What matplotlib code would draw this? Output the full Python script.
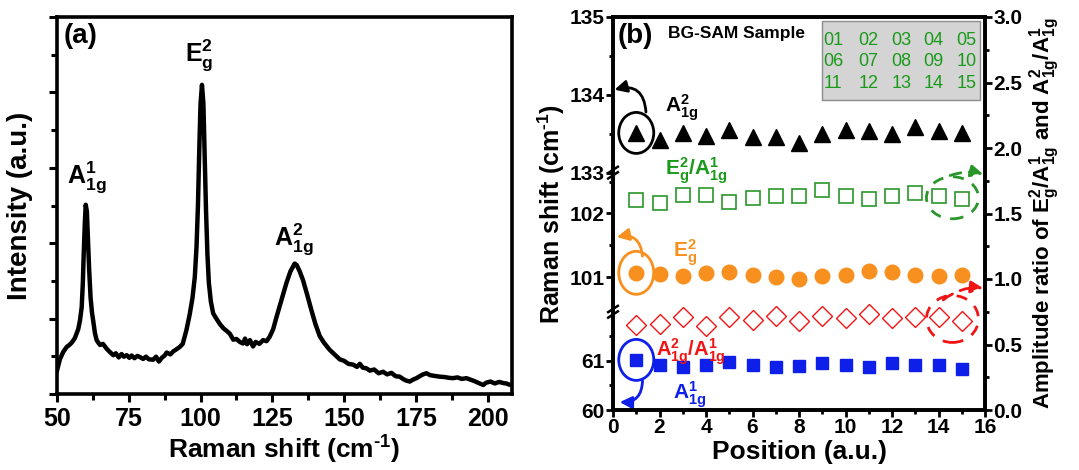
import numpy as np
import matplotlib
matplotlib.use('Agg')
import matplotlib.pyplot as plt
from matplotlib import font_manager
from matplotlib.patches import Ellipse, Rectangle
from matplotlib.transforms import ScaledTranslation
import matplotlib.ticker as mticker

# ---------------- data ----------------
# panel (a): Raman spectrum (shift cm-1, intensity a.u.)
spectrum_points = [
    (50.0, 0.62), (51.0, 0.92), (52.2, 1.12), (53.4, 1.25), (54.3, 1.30), (55.1, 1.36),
    (56.2, 1.48), (57.4, 1.72), (58.0, 1.95), (58.6, 2.30), (59.0, 2.95), (59.3, 3.70),
    (59.7, 4.55), (60.0, 5.02), (60.4, 4.85), (60.8, 4.10), (61.2, 3.30), (61.7, 2.55),
    (62.2, 2.15), (62.6, 1.95), (63.2, 1.62), (63.8, 1.43), (64.4, 1.36), (65.0, 1.30),
    (66.0, 1.33), (67.3, 1.20), (68.2, 1.13), (69.6, 1.03), (70.5, 1.08), (71.5, 0.97),
    (72.5, 1.06), (73.3, 0.99), (74.3, 1.03), (75.2, 0.96), (76.0, 1.02), (77.0, 0.95),
    (78.0, 1.01), (78.9, 0.98), (80.0, 0.93), (81.0, 0.99), (82.0, 0.92), (83.5, 0.91),
    (84.5, 0.99), (85.5, 0.86), (86.5, 0.96), (87.5, 1.02), (88.2, 1.10), (89.5, 1.05),
    (90.5, 1.13), (91.5, 1.18), (92.8, 1.25), (93.8, 1.33), (95.1, 1.70), (96.2, 2.10),
    (97.2, 2.55), (98.0, 3.10), (98.6, 3.90), (99.1, 5.00), (99.6, 6.60), (100.0, 7.70),
    (100.5, 8.20), (101.0, 7.70), (101.4, 6.40), (101.9, 4.90), (102.4, 3.70), (102.9, 2.95),
    (103.6, 2.45), (104.4, 2.14), (105.5, 2.00), (106.7, 1.86), (108.0, 1.74), (109.0, 1.68),
    (110.2, 1.60), (111.4, 1.44), (112.5, 1.46), (113.7, 1.38), (114.8, 1.34), (115.5, 1.47),
    (116.2, 1.32), (117.2, 1.43), (118.3, 1.26), (119.2, 1.38), (120.5, 1.33), (121.8, 1.43),
    (123.0, 1.40), (124.1, 1.52), (125.3, 1.72), (126.5, 2.05), (128.2, 2.50), (129.9, 2.94),
    (131.3, 3.25), (132.8, 3.46), (133.5, 3.42), (134.5, 3.26), (135.7, 3.02), (137.2, 2.62),
    (138.6, 2.23), (140.0, 1.86), (141.5, 1.54), (143.0, 1.36), (145.0, 1.17), (146.8, 1.04),
    (148.5, 0.92), (150.0, 0.88), (151.5, 0.80), (153.1, 0.78), (154.5, 0.72), (155.5, 0.80),
    (156.5, 0.70), (157.8, 0.68), (159.0, 0.62), (160.5, 0.65), (162.0, 0.55), (163.6, 0.59),
    (165.0, 0.52), (166.5, 0.56), (168.0, 0.47), (169.4, 0.46), (170.5, 0.40), (171.5, 0.36),
    (172.9, 0.33), (174.0, 0.38), (175.2, 0.42), (176.3, 0.47), (177.5, 0.52), (178.7, 0.55),
    (180.0, 0.50), (181.5, 0.48), (183.3, 0.46), (185.0, 0.45), (186.5, 0.43), (187.9, 0.42),
    (189.5, 0.44), (191.0, 0.40), (192.6, 0.42), (194.0, 0.38), (195.5, 0.34), (197.2, 0.28),
    (198.5, 0.24), (199.5, 0.30), (201.0, 0.33), (202.5, 0.28), (204.0, 0.32), (205.5, 0.29),
    (206.5, 0.28), (207.5, 0.25), (208.5, 0.23),
]
spec_shift = [p[0] for p in spectrum_points]
spec_intensity = [p[1] for p in spectrum_points]

# panel (b)
position = list(range(1, 16))
a1g2_shift = [133.51, 133.42, 133.51, 133.47, 133.55, 133.46, 133.46, 133.38, 133.49,
              133.55, 133.53, 133.49, 133.58, 133.53, 133.51]
eg2_shift = [101.07, 101.05, 101.02, 101.07, 101.08, 101.03, 101.00, 100.98, 101.02,
             101.03, 101.10, 101.08, 101.03, 101.02, 101.03]
a1g1_shift = [61.02, 60.92, 60.87, 60.92, 60.97, 60.92, 60.87, 60.90, 60.95,
              60.92, 60.87, 60.95, 60.92, 60.92, 60.83]
ratio_eg_a1 = [1.60, 1.58, 1.64, 1.64, 1.59, 1.62, 1.63, 1.63, 1.68, 1.63, 1.61, 1.63,
               1.66, 1.63, 1.61]
ratio_a2_a1 = [0.65, 0.66, 0.71, 0.64, 0.71, 0.69, 0.72, 0.68, 0.72, 0.70, 0.73, 0.70,
               0.71, 0.71, 0.68]

left_ticks = [60, 61, 101, 102, 133, 134, 135]
left_minor = [60.5, 61.5, 101.5, 102.5, 133.5, 134.5]

# ---------------- fonts ----------------
names = {f.name for f in font_manager.fontManager.ttflist}
FONT = 'Liberation Sans Narrow' if 'Liberation Sans Narrow' in names else 'Liberation Sans'
plt.rcParams['font.family'] = [FONT, 'DejaVu Sans']
plt.rcParams['font.weight'] = 'bold'
plt.rcParams['axes.labelweight'] = 'bold'
plt.rcParams['mathtext.fontset'] = 'custom'
for k in ('rm', 'it', 'bf', 'sf'):
    plt.rcParams['mathtext.' + k] = FONT + ':bold'
plt.rcParams['mathtext.default'] = 'rm'

ORANGE = '#f7901e'
BLUE = '#0d1fe8'
RED = '#f01414'
GREEN = '#2a962a'
GTEXT = '#1a9a1a'

W, H = 1079, 470
fig = plt.figure(figsize=(W / 100, H / 100), dpi=100)

def box(l, r, t, b):
    return [l / W, 1 - b / H, (r - l) / W, (b - t) / H]

def bold_ticks(ax):
    for lbl in ax.get_xticklabels() + ax.get_yticklabels():
        lbl.set_fontweight('bold')

# ---------------- panel (a) ----------------
axa = fig.add_axes(box(57, 512, 17, 394))
axa.plot(spec_shift, spec_intensity, color='black', lw=3.2, solid_joinstyle='round')
axa.set_xlim(50, 208.5)
axa.set_ylim(0, 10)
axa.xaxis.set_major_locator(mticker.MultipleLocator(25))
axa.xaxis.set_minor_locator(mticker.MultipleLocator(12.5))
axa.yaxis.set_major_locator(mticker.MultipleLocator(2))
axa.yaxis.set_minor_locator(mticker.MultipleLocator(1))
axa.yaxis.set_major_formatter(mticker.NullFormatter())
axa.tick_params(which='both', direction='out', width=2.2)
axa.tick_params(which='major', length=6, labelsize=18)
axa.tick_params(which='minor', length=4)
for s in axa.spines.values():
    s.set_linewidth(2.6)
axa.set_xlabel(r'Raman shift (cm$^{\text{-}1}$)', fontsize=19, labelpad=2)
axa.set_ylabel('Intensity (a.u.)', fontsize=20, labelpad=8)
axa.text(0.015, 0.985, '(a)', transform=axa.transAxes, fontsize=20, ha='left', va='top')
axa.text(99.5, 9.0, 'E$_g^2$', fontsize=18, ha='center', va='center')
axa.text(60.5, 5.75, 'A$^1_{1g}$', fontsize=18, ha='center', va='center')
axa.text(132.5, 4.1, 'A$^2_{1g}$', fontsize=18, ha='center', va='center')
bold_ticks(axa)

# ---------------- panel (b) ----------------
axb = fig.add_axes(box(613, 985, 17, 410))
seg_val = [60, 62, 100.46, 102.64, 133, 135]
seg_pos = [0, 0.25, 0.2501, 0.604, 0.6041, 1.0]

def fwd(v):
    return np.interp(v, seg_val, seg_pos)

def inv(p):
    return np.interp(p, seg_pos, seg_val)

axb.set_yscale('function', functions=(fwd, inv))
axb.set_ylim(60, 135)
axb.set_xlim(0, 16)
axb.set_yticks(left_ticks)
axb.set_yticks(left_minor, minor=True)
axb.yaxis.set_major_formatter(mticker.FormatStrFormatter('%d'))
axb.yaxis.set_minor_formatter(mticker.NullFormatter())
axb.xaxis.set_major_locator(mticker.MultipleLocator(2))
axb.xaxis.set_minor_locator(mticker.MultipleLocator(1))
axb.tick_params(which='both', direction='out', width=2.0)
axb.tick_params(which='major', length=5, labelsize=15, pad=1)
axb.tick_params(which='minor', length=3)
for s in axb.spines.values():
    s.set_linewidth(2.6)
bold_ticks(axb)

ax2 = axb.twinx()
ax2.set_ylim(0, 3)
ax2.yaxis.set_major_locator(mticker.MultipleLocator(0.5))
ax2.yaxis.set_minor_locator(mticker.MultipleLocator(0.25))
ax2.yaxis.set_major_formatter(mticker.FormatStrFormatter('%.1f'))
ax2.tick_params(which='both', direction='out', width=2.0)
ax2.tick_params(which='major', length=5, labelsize=15, pad=1)
ax2.tick_params(which='minor', length=3)
for s in ax2.spines.values():
    s.set_linewidth(2.6)
bold_ticks(ax2)

axb.plot(position, a1g2_shift, ls='none', marker='^', ms=11.5, color='black')
axb.plot(position, eg2_shift, ls='none', marker='o', ms=10.5, color=ORANGE)
axb.plot(position, a1g1_shift, ls='none', marker='s', ms=9, color=BLUE)
ax2.plot(position, ratio_eg_a1, ls='none', marker='s', ms=10, mfc='none', mec=GREEN, mew=1.2)
ax2.plot(position, ratio_a2_a1, ls='none', marker='D', ms=10, mfc='none', mec=RED, mew=1.0)

axb.set_xlabel('Position (a.u.)', fontsize=19, labelpad=2)
axb.set_ylabel(r'Raman shift (cm$^{\text{-}1}$)', fontsize=18, labelpad=2)
ax2.set_ylabel('Amplitude ratio of E$_g^2$/A$^1_{1g}$ and A$^2_{1g}$/A$^1_{1g}$',
               fontsize=16, labelpad=4)

# axis break marks on left spine
for yb in (seg_pos[1], seg_pos[3]):
    for dy in (-0.007, 0.007):
        axb.plot([-0.013, 0.013], [yb + dy - 0.008, yb + dy + 0.008], transform=axb.transAxes,
                 color='black', lw=1.8, clip_on=False, zorder=5)

# text labels and panel label
axb.text(0.012, 0.985, '(b)', transform=axb.transAxes, fontsize=20, ha='left', va='top')
axb.text(0.148, 0.958, 'BG-SAM Sample', transform=axb.transAxes, fontsize=12.5,
         ha='left', va='center')
ax2.add_patch(Rectangle((0.561, 0.79), 0.425, 0.201, transform=axb.transAxes,
                        facecolor='#d4d4d4', edgecolor='#8c8c8c', lw=1.0, zorder=3,
                        clip_on=False))
col_x = [0.592, 0.686, 0.775, 0.862, 0.950]
row_y = [0.940, 0.886, 0.831]
for i, p in enumerate(position):
    ax2.text(col_x[i % 5], row_y[i // 5], f'{p:02d}', transform=axb.transAxes,
             fontsize=13, fontweight='normal', color=GTEXT, ha='center', va='center',
             family=[FONT, 'DejaVu Sans'], zorder=4)

axb.text(0.14, 0.768, 'A$^2_{1g}$', transform=axb.transAxes, fontsize=15, ha='left',
         va='center', color='black')
axb.text(0.14, 0.61, 'E$_g^2$/A$^1_{1g}$', transform=axb.transAxes, fontsize=15,
         ha='left', va='center', color=GTEXT)
axb.text(0.16, 0.40, 'E$_g^2$', transform=axb.transAxes, fontsize=15, ha='left',
         va='center', color=ORANGE)
axb.text(0.115, 0.148, 'A$^2_{1g}$/A$^1_{1g}$', transform=axb.transAxes, fontsize=14.5,
         ha='left', va='center', color=RED)
axb.text(0.16, 0.038, 'A$^1_{1g}$', transform=axb.transAxes, fontsize=15, ha='left',
         va='center', color=BLUE)

# highlight circles around first points
def ring(ax, x, y, w, h, color, ls='-'):
    tr = fig.dpi_scale_trans + ScaledTranslation(x, y, ax.transData)
    e = Ellipse((0, 0), w, h, transform=tr, fill=False, edgecolor=color, lw=2.0,
                linestyle=ls, clip_on=False, zorder=6)
    ax.add_artist(e)

ring(axb, position[0], a1g2_shift[0], 0.35, 0.41, 'black')
ring(axb, position[0], eg2_shift[0], 0.35, 0.43, ORANGE)
ring(axb, position[0], a1g1_shift[0], 0.35, 0.41, BLUE)
x_last = (position[-2] + position[-1]) / 2 + 0.1
ring(ax2, x_last, (ratio_eg_a1[-2] + ratio_eg_a1[-1]) / 2, 0.52, 0.42, GREEN, (0, (4, 3.5)))
ring(ax2, x_last, (ratio_a2_a1[-2] + ratio_a2_a1[-1]) / 2, 0.52, 0.47, RED, (0, (4, 3.5)))

def curved(ax, x, y, dx_pt, dy_pt, end, color, rad, ls='-'):
    tc = ax.transData + ScaledTranslation(dx_pt / 72, dy_pt / 72, fig.dpi_scale_trans)
    ax.annotate('', xy=end, xycoords=axb.transAxes, xytext=(x, y), textcoords=tc,
                arrowprops=dict(arrowstyle='-|>,head_length=0.6,head_width=0.3',
                                color=color, lw=2.0, ls=ls,
                                connectionstyle=f'arc3,rad={rad}', mutation_scale=12,
                                shrinkA=0, shrinkB=0),
                annotation_clip=False, zorder=7)

curved(axb, position[0], a1g2_shift[0], 7, 15, (0.004, 0.815), 'black', 0.6)
curved(axb, position[0], eg2_shift[0], 4.5, 12, (0.01, 0.44), ORANGE, 0.55)
curved(axb, position[0], a1g1_shift[0], 4.5, -15, (0.018, 0.02), BLUE, -0.5)
curved(ax2, 14.5, 1.79, 0, 0, (0.995, 0.60), GREEN, -0.15, (0, (4, 3)))
curved(ax2, 14.2, 0.84, 0, 0, (0.995, 0.31), RED, -0.2, (0, (4, 3)))

fig.savefig('out.png', dpi=100)
